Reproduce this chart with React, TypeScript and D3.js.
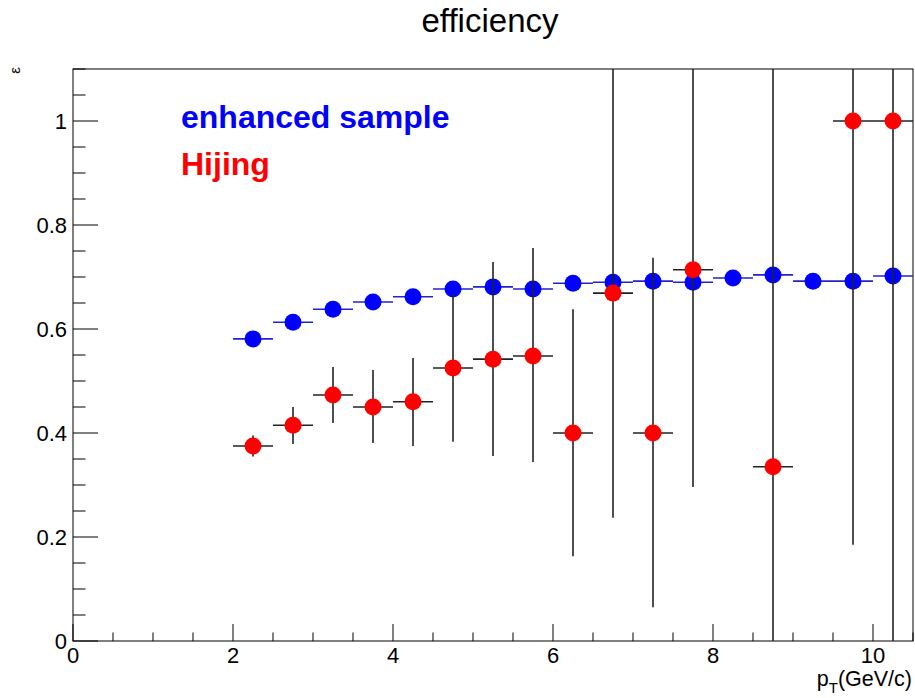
import React from "react";
import * as d3 from "d3";

const binCenters = [2.25, 2.75, 3.25, 3.75, 4.25, 4.75, 5.25, 5.75, 6.25, 6.75, 7.25, 7.75, 8.25, 8.75, 9.25, 9.75, 10.25];
const enhancedValues = [0.581, 0.613, 0.638, 0.652, 0.662, 0.677, 0.681, 0.677, 0.688, 0.690, 0.692, 0.690, 0.698, 0.704, 0.692, 0.692, 0.702];
const enhancedErrLow = [0.006, 0.006, 0.006, 0.006, 0.007, 0.007, 0.008, 0.008, 0.009, 0.009, 0.01, 0.011, 0.012, 0.013, 0.014, 0.015, 0.016];
const enhancedErrHigh = [0.006, 0.006, 0.006, 0.006, 0.007, 0.007, 0.008, 0.008, 0.009, 0.009, 0.01, 0.011, 0.012, 0.013, 0.014, 0.015, 0.016];

const hijingCenters = [2.25, 2.75, 3.25, 3.75, 4.25, 4.75, 5.25, 5.75, 6.25, 6.75, 7.25, 7.75, 8.75, 9.75, 10.25];
const hijingValues = [0.375, 0.415, 0.473, 0.45, 0.46, 0.525, 0.542, 0.548, 0.40, 0.669, 0.40, 0.714, 0.335, 1.0, 1.0];
const hijingLow = [0.355, 0.379, 0.419, 0.381, 0.375, 0.383, 0.356, 0.344, 0.163, 0.237, 0.065, 0.296, 0.0, 0.185, 0.0];
const hijingHigh = [0.395, 0.45, 0.527, 0.521, 0.544, 0.668, 0.729, 0.756, 0.638, 1.2, 0.737, 1.2, 1.2, 1.2, 1.2];

const binHalfWidth = 0.25;
const xTicks = [0, 2, 4, 6, 8, 10];
const yTicks = [0, 0.2, 0.4, 0.6, 0.8, 1];
const title = "efficiency";
const legendLabels = ["enhanced sample", "Hijing"];

const W = 915;
const H = 698;
const left = 73;
const right = 913;
const top = 69;
const bottom = 641;

export default function App() {
  const x = d3.scaleLinear().domain([0, 10.5]).range([left, right]);
  const y = d3.scaleLinear().domain([0, 1.1]).range([bottom, top]);
  const clampY = (v: number) => y(Math.max(0, Math.min(1.1, v)));

  const xMinor = d3.range(0, 10.5001, 0.5);
  const yMinor = d3.range(0, 1.1001, 0.05);
  const majorX = 17;
  const majorY = 25;
  const font = "'Liberation Sans', Arial, Helvetica, sans-serif";

  return (
    <div style={{ position: "absolute", left: 0, top: 0 }}>
      <svg width={W} height={H} style={{ display: "block", background: "#fff" }} fontFamily={font}>
        <rect x={0} y={0} width={W} height={H} fill="#fff" />
        <defs>
          <clipPath id="plotclip">
            <rect x={left} y={top} width={right - left} height={bottom - top} />
          </clipPath>
        </defs>
        <text x={490} y={32} fontSize={33} textAnchor="middle" fill="#000">{title}</text>

        {/* frame */}
        <rect x={left} y={top} width={right - left} height={bottom - top} fill="none" stroke="#000" strokeWidth={1} />

        {/* x ticks */}
        {xMinor.map((v, i) => {
          const isMajor = Math.abs(v / 2 - Math.round(v / 2)) < 1e-6;
          return (
            <line key={"xt" + i} x1={x(v)} x2={x(v)} y1={bottom} y2={bottom - (isMajor ? majorX : majorX / 2)} stroke="#000" strokeWidth={1} />
          );
        })}
        {/* y ticks */}
        {yMinor.map((v, i) => {
          const isMajor = Math.abs(v / 0.2 - Math.round(v / 0.2)) < 1e-6;
          return (
            <line key={"yt" + i} x1={left} x2={left + (isMajor ? majorY : majorY / 2)} y1={y(v)} y2={y(v)} stroke="#000" strokeWidth={1} />
          );
        })}
        {xTicks.map((v) => (
          <text key={"xl" + v} x={x(v)} y={663} fontSize={22} textAnchor="middle" fill="#000">{d3.format("~g")(v)}</text>
        ))}
        {yTicks.map((v) => (
          <text key={"yl" + v} x={67} y={y(v) + 8} fontSize={22} textAnchor="end" fill="#000">{d3.format("~g")(v)}</text>
        ))}

        {/* axis titles */}
        <text x={912} y={686} fontSize={21.5} textAnchor="end" fill="#000">
          p<tspan dy={7} fontSize={15}>T</tspan><tspan dy={-7}>(GeV/c)</tspan>
        </text>
        <text transform={`translate(20, 67) rotate(-90)`} fontSize={15} textAnchor="end" fill="#000">ε</text>

        <g clipPath="url(#plotclip)">
          {/* enhanced sample */}
          {binCenters.map((c, i) => (
            <g key={"e" + i}>
              <line x1={x(c - binHalfWidth)} x2={x(c + binHalfWidth)} y1={y(enhancedValues[i])} y2={y(enhancedValues[i])} stroke="#2323c8" strokeWidth={1.6} />
              <line x1={x(c)} x2={x(c)} y1={clampY(enhancedValues[i] - enhancedErrLow[i])} y2={clampY(enhancedValues[i] + enhancedErrHigh[i])} stroke="#2323c8" strokeWidth={1.6} />
            </g>
          ))}
          {binCenters.map((c, i) => (
            <circle key={"em" + i} cx={x(c)} cy={y(enhancedValues[i])} r={8.5} fill="#0000ff" />
          ))}

          {/* Hijing */}
          {hijingCenters.map((c, i) => (
            <g key={"h" + i}>
              <line x1={x(c - binHalfWidth)} x2={x(c + binHalfWidth)} y1={y(hijingValues[i])} y2={y(hijingValues[i])} stroke="#222" strokeWidth={1.6} />
              <line x1={x(c)} x2={x(c)} y1={clampY(hijingLow[i])} y2={clampY(hijingHigh[i])} stroke="#222" strokeWidth={1.6} />
            </g>
          ))}
          {hijingCenters.map((c, i) => (
            <circle key={"hm" + i} cx={x(c)} cy={y(hijingValues[i])} r={8.5} fill="#ff0000" />
          ))}
        </g>

        {/* legend */}
        <text x={181} y={128} fontSize={32} fontWeight="bold" fill="#0000ff">{legendLabels[0]}</text>
        <text x={181} y={175} fontSize={32} fontWeight="bold" fill="#ff0000">{legendLabels[1]}</text>
      </svg>
    </div>
  );
}
